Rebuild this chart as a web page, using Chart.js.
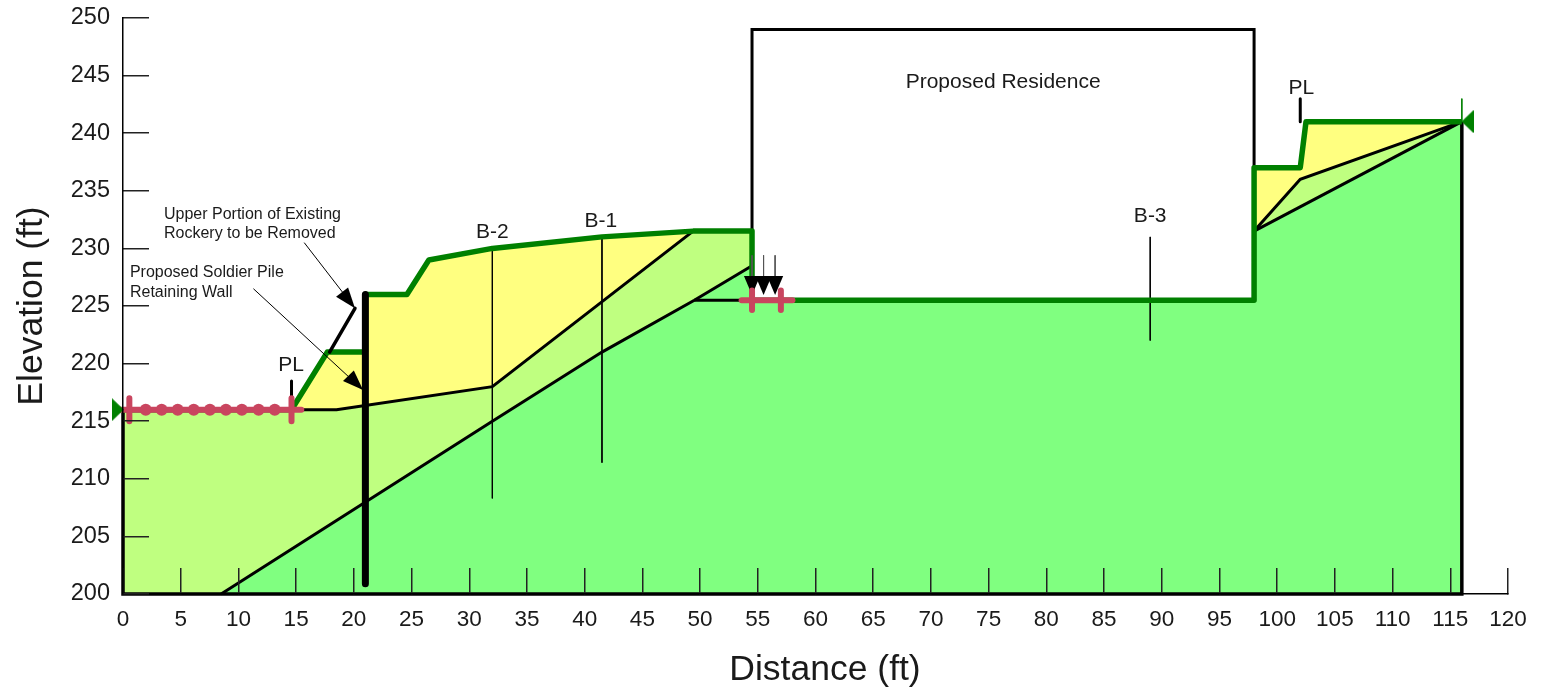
<!DOCTYPE html>
<html>
<head>
<meta charset="utf-8">
<title>Slope section</title>
<script src="https://cdn.jsdelivr.net/npm/chart.js@4/dist/chart.umd.min.js"></script>
<style>
    body { margin: 0; background: #fff; }
    canvas { display: block; }
</style>
</head>
<body>
<canvas id="section" width="1543" height="692"></canvas>
<script>
// Soil regions, [distance, elevation]
const lowerSoil = [[8.5,200],[32,215],[41.5,221],[49.5,225.5],[54.5,228.5],[54.5,225.5],[98,225.5],[98,231.5],[116,241],[116,200]];
const middleSoil = [[0,216],[14.6,216],[18.5,216],[32,218],[49.4,231.5],[54.5,231.5],[54.5,228.5],[49.5,225.5],[41.5,221],[32,215],[8.5,200],[0,200]];
const middleSoilRight = [[98,231.5],[102,236],[116,241]];
const upperSoil = [[14.6,216],[17.7,221],[21,221],[21,226],[24.6,226],[26.5,229],[32,230],[41.5,231],[49.4,231.5],[32,218],[18.5,216]];
const upperSoilRight = [[98,231.5],[98,237],[102,237],[102.5,241],[116,241],[102,236]];

// Line work
const groundSurface = [[0,216],[14.6,216],[17.7,221],[21,221],[21,226],[24.6,226],[26.5,229],[32,230],[41.5,231],[49.4,231.5],[54.5,231.5],[54.5,225.5],[98,225.5],[98,237],[102,237],[102.5,241],[116,241]];
const section_outline = [[116,241],[116,200],[0,200],[0,216]];
const lowerBoundary = [[8.5,200],[32,215],[41.5,221],[49.5,225.5],[54.5,228.5]];
const cutBase = [[49.5,225.5],[54.5,225.5]];
const middleBoundary = [[14.6,216],[18.5,216],[32,218],[49.4,231.5]];
const rightBoundaryA = [[98,231.5],[102,236],[116,241]];
const rightBoundaryB = [[98,231.5],[116,241]];
const residence = [[54.5,231.5],[54.5,249],[98,249],[98,237]];
const soldierPile = [[21,226],[21,200.9]];
const rockery = [[17.9,221],[20.1,224.8]];
const endStem = [[116,243],[116,241]];
const plLeft = [[14.6,218.5],[14.6,216]];
const plRight = [[102,243],[102,241]];

// Borings
const boringB2 = [[32,230],[32,208.3]];
const boringB1 = [[41.5,231],[41.5,211.4]];
const boringB3 = [[89,231],[89,222]];

// Leader arrows
const leaderRockery = [[15.7,230.5],[20.1,224.8]];
const leaderRockeryHead = [[20.1,224.8],[18.46,225.8],[19.5,226.6]];
const leaderPile = [[11.3,226.5],[20.8,217.7]];
const leaderPileHead = [[20.8,217.7],[19.06,218.5],[20,219.4]];

// Load arrows at the cut
const loadStems = [[[54.5,229.4],[54.5,227.6]],[[55.5,229.4],[55.5,227.6]],[[56.5,229.4],[56.5,227.6]]];
const loadHeads = [[[53.8,227.6],[55.2,227.6],[54.5,225.95]],[[54.8,227.6],[56.2,227.6],[55.5,225.95]],[[55.8,227.6],[57.2,227.6],[56.5,225.95]]];

// Red search limits
const limitLeft = [[-0.35,216],[15.45,216]];
const limitLeftBeads = [[1.97,216],[3.35,216],[4.74,216],[6.13,216],[7.53,216],[8.92,216],[10.3,216],[11.75,216],[13.15,216]];
const limitLeftTicks = [[[0.55,217],[0.55,215]],[[14.6,217],[14.6,215]]];
const limitRight = [[53.6,225.5],[58,225.5]];
const limitRightTicks = [[[54.5,226.35],[54.5,224.65]],[[57,226.35],[57,224.65]]];

// Slope end markers
const endLeft = [[-0.45,216]];
const endRight = [[116.5,241]];

// Axis ticks
const xMin = 0, xMax = 120, xStep = 5;
const yMin = 200, yMax = 250, yStep = 5;

// Labels
const sectionNotes = [
    { text: 'Proposed Residence', x: 76.26, y: 244.4, font: '21px', align: 'center' },
    { text: 'PL', x: 14.56, y: 219.9, font: '21px', align: 'center' },
    { text: 'PL', x: 102.1, y: 243.9, font: '21px', align: 'center' },
    { text: 'B-2', x: 32, y: 231.4, font: '21px', align: 'center' },
    { text: 'B-1', x: 41.4, y: 232.4, font: '21px', align: 'center' },
    { text: 'B-3', x: 89, y: 232.8, font: '21px', align: 'center' },
    { text: 'Upper Portion of Existing', x: 3.55, y: 232.95, font: '16px', align: 'left' },
    { text: 'Rockery to be Removed', x: 3.55, y: 231.3, font: '16px', align: 'left' },
    { text: 'Proposed Soldier Pile', x: 0.6, y: 227.9, font: '16px', align: 'left' },
    { text: 'Retaining Wall', x: 0.6, y: 226.15, font: '16px', align: 'left' }
];

const GREEN = '#008000';
const RED = '#C9455F';
const BLACK = '#000000';
const FONT = '"Liberation Sans", Arial, sans-serif';

const toPoints = pts => pts.map(p => ({ x: p[0], y: p[1] }));

function stroke(pts, color, width, extra) {
    return Object.assign({
        data: toPoints(pts),
        showLine: true,
        borderColor: color,
        borderWidth: width,
        backgroundColor: 'transparent',
        pointRadius: 0,
        fill: false,
        clip: false,
        tension: 0
    }, extra || {});
}

function region(pts, color) {
    return stroke(pts, 'transparent', 0, { fill: 'shape', backgroundColor: color });
}

// Flat triangle for the slope end markers, points right
function endMarker(w, h) {
    const c = document.createElement('canvas');
    c.width = w;
    c.height = h;
    const g = c.getContext('2d');
    g.fillStyle = GREEN;
    g.beginPath();
    g.moveTo(0, 0);
    g.lineTo(w, h / 2);
    g.lineTo(0, h);
    g.closePath();
    g.fill();
    return c;
}
const marker = endMarker(12, 23);

// bottom to top, reversed below since Chart.js paints the first dataset last
const layers = [
    region(lowerSoil, '#80FF80'),
    region(middleSoil, '#BFFF80'),
    region(middleSoilRight, '#BFFF80'),
    region(upperSoil, '#FFFF80'),
    region(upperSoilRight, '#FFFF80'),
    stroke(boringB2, BLACK, 1),
    stroke(boringB1, BLACK, 1),
    stroke(boringB3, BLACK, 1),
    stroke(section_outline, BLACK, 3.5),
    stroke(lowerBoundary, BLACK, 3),
    stroke(cutBase, BLACK, 3),
    stroke(middleBoundary, BLACK, 3),
    stroke(rightBoundaryA, BLACK, 3),
    stroke(rightBoundaryB, BLACK, 3),
    stroke(residence, BLACK, 3),
    stroke(endStem, GREEN, 1),
    stroke(groundSurface, GREEN, 5.5, { borderJoinStyle: 'round' }),
    stroke(soldierPile, BLACK, 7, { borderCapStyle: 'round' }),
    stroke(rockery, BLACK, 3.5, { borderCapStyle: 'round' }),
    stroke(plLeft, BLACK, 3, { borderCapStyle: 'round' }),
    stroke(plRight, BLACK, 3, { borderCapStyle: 'round' }),
    stroke(leaderRockery, BLACK, 1),
    region(leaderRockeryHead, BLACK),
    stroke(leaderPile, BLACK, 1),
    region(leaderPileHead, BLACK),
    ...loadStems.map(s => stroke(s, '#555555', 1)),
    ...loadHeads.map(h => region(h, BLACK)),
    stroke(limitLeft, RED, 6, { borderCapStyle: 'round' }),
    stroke(limitLeftBeads, RED, 0, { showLine: false, pointRadius: 6, pointBackgroundColor: RED, pointBorderWidth: 0 }),
    ...limitLeftTicks.map(t => stroke(t, RED, 6, { borderCapStyle: 'round' })),
    stroke(limitRight, RED, 6, { borderCapStyle: 'round' }),
    ...limitRightTicks.map(t => stroke(t, RED, 6, { borderCapStyle: 'round' })),
    stroke(endLeft, GREEN, 0, { showLine: false, pointRadius: 12, pointStyle: marker }),
    stroke(endRight, GREEN, 0, { showLine: false, pointRadius: 12, pointStyle: marker, pointRotation: 180 })
];

// Axis titles and the notes on the section
const sectionLabels = {
    id: 'sectionLabels',
    afterDatasetsDraw(chart) {
        const { ctx, scales } = chart;
        ctx.save();
        ctx.fillStyle = '#1a1a1a';
        ctx.textBaseline = 'middle';
        sectionNotes.forEach(n => {
            ctx.font = n.font + ' ' + FONT;
            ctx.textAlign = n.align;
            ctx.fillText(n.text, scales.x.getPixelForValue(n.x), scales.y.getPixelForValue(n.y));
        });
        ctx.font = '35.5px ' + FONT;
        ctx.textAlign = 'center';
        ctx.fillText('Distance (ft)', 825, 670);
        ctx.translate(32, 306);
        ctx.rotate(-Math.PI / 2);
        ctx.fillText('Elevation (ft)', 0, 0);
        ctx.restore();
    }
};

function axis(min, max, step, padding, fontSize) {
    return {
        type: 'linear',
        min: min,
        max: max,
        grace: 0,
        border: { color: BLACK, width: 1.5, z: 1 },
        grid: { drawOnChartArea: false, color: '#222222', lineWidth: 1.5, tickLength: -26, z: 1 },
        ticks: {
            stepSize: step,
            autoSkip: false,
            maxRotation: 0,
            color: '#1a1a1a',
            padding: padding,
            font: { size: fontSize, family: FONT }
        }
    };
}

const xAxis = axis(xMin, xMax, xStep, 38, 22.5);
xAxis.afterFit = scale => {
    scale.height = 98;
    scale.paddingLeft = 0;
    scale.paddingRight = 0;
};
const yAxis = axis(yMin, yMax, yStep, 39, 23.5);
yAxis.afterFit = scale => {
    scale.width = 123;
    scale.paddingTop = 0;
    scale.paddingBottom = 0;
};

new Chart(document.getElementById('section').getContext('2d'), {
    type: 'scatter',
    data: { datasets: layers.slice().reverse() },
    options: {
        responsive: false,
        devicePixelRatio: 1,
        animation: false,
        layout: { padding: { top: 18, right: 35, left: 0, bottom: 0 } },
        plugins: { legend: { display: false }, tooltip: { enabled: false } },
        events: [],
        scales: { x: xAxis, y: yAxis }
    },
    plugins: [sectionLabels]
});
</script>
</body>
</html>
